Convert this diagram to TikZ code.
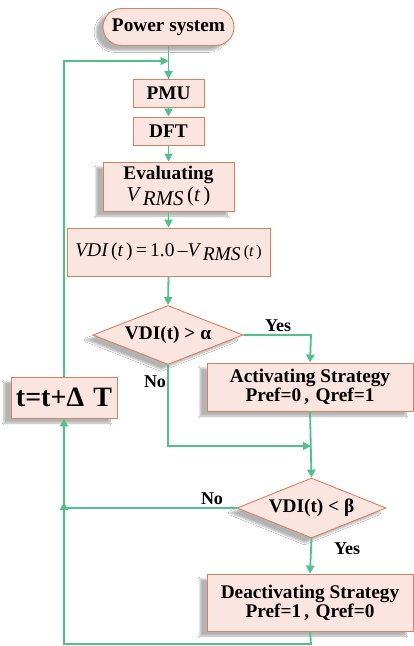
\documentclass[tikz,border=0pt]{standalone}
\usepackage{fontspec}
\setmainfont{Liberation Serif}
\usetikzlibrary{shapes.geometric,shapes.misc,arrows.meta,shadows.blur}
\definecolor{boxfill}{HTML}{FBE5E0}
\definecolor{boxdraw}{HTML}{D9825F}
\definecolor{flow}{HTML}{4CC38A}
\begin{document}
\begin{tikzpicture}[x=1pt,y=-1pt,
  base/.style={draw=boxdraw,fill=boxfill,line width=0.9pt,inner sep=0pt,align=center,font=\bfseries\fontsize{19.3}{21}\selectfont},
  sh/.style={blur shadow={shadow xshift=-7pt,shadow yshift=-5pt,shadow opacity=30,shadow blur steps=6}},
  proc/.style={base,rectangle},
  term/.style={base,rounded rectangle},
  dec/.style={base,diamond,aspect=2.5},
  flowline/.style={draw=flow,line width=1.8pt},
  arr/.style={flowline,-{Triangle[length=8pt,width=8pt]}},
  lab/.style={font=\bfseries\fontsize{18}{20}\selectfont,inner sep=0pt}
]
\useasboundingbox (0,0) rectangle (413,646);
\fill[white] (0,0) rectangle (413,646);

\node[term,sh,minimum width=131pt,minimum height=37pt] (ps) at (168.5,27) {Power system};
\node[proc,minimum width=71pt,minimum height=28pt] (pmu) at (168.5,93) {PMU};
\node[proc,minimum width=71pt,minimum height=28pt] (dft) at (168.5,131) {DFT};
\node[proc,sh,minimum width=131pt,minimum height=49pt] (eval) at (168.5,186.5)
  {Evaluating\\[1pt]{\mdseries\fontsize{21}{23}\selectfont\itshape V\,\raisebox{-4pt}{RMS}\,\upshape(\itshape t\upshape\,)}};
\node[proc,minimum width=203pt,minimum height=48pt] (vdi) at (168.5,252)
  {\mdseries\fontsize{19.5}{21}\selectfont\itshape VDI\upshape\,(\itshape t\upshape\,)\,=\,1.0\,\textendash\itshape V\,\raisebox{-4pt}{RMS}\,\upshape{\fontsize{16}{18}\selectfont(\itshape t\upshape\,)}};
\node[dec,sh,minimum width=150pt,minimum height=59pt] (d1) at (168,335) {VDI(t) > α};
\node[proc,sh,minimum width=206pt,minimum height=48pt] (act) at (310,387) {Activating Strategy\\[-2pt]Pref=0\,,\,\,Qref=1};
\node[proc,sh,minimum width=106pt,minimum height=41pt,font=\bfseries\fontsize{28}{30}\selectfont] (tb) at (64,397.5) {t=t+Δ\,\,T};
\node[dec,sh,minimum width=149pt,minimum height=60pt] (d2) at (311.5,508) {VDI(t) < β};
\node[proc,sh,minimum width=206pt,minimum height=57pt] (deact) at (310,602.5) {Deactivating Strategy\\[-2pt]Pref=1\,,\,\,Qref=0};

\coordinate (loopTop) at (64,61);
\coordinate (mainTop) at (168.5,61);
\coordinate (yesCorner) at (311,335);
\coordinate (noCorner) at (168,446);
\coordinate (noJoin) at (311,446);
\coordinate (no2Corner) at (64,508);
\coordinate (botRight) at (311,644);
\coordinate (botLeft) at (64,644);
\coordinate (botEnd) at (64,502);

\draw[flowline] (ps.south) -- (pmu.north);
\draw[arr] (mainTop) -- ++(0,18);
\draw[arr] (tb.north) -- (loopTop) -- (mainTop);
\draw[arr] (pmu.south) -- (dft.north);
\draw[arr] (dft.south) -- (eval.north);
\draw[arr] (eval.south) -- (vdi.north);
\draw[arr] (vdi.south) -- (d1.north);
\draw[arr] (d1.east) -- (yesCorner) -- (act.north);
\draw[arr] (d1.south) -- (noCorner) -- (noJoin);
\draw[arr] (act.south) -- (d2.north);
\draw[arr] (d2.west) -- (no2Corner) -- (tb.south);
\draw[arr] (d2.south) -- (deact.north);
\draw[arr] (deact.south) -- (botRight) -- (botLeft) -- (botEnd);

\node[lab] (yes1) at (278,326) {Yes};
\node[lab] (no1) at (155,382) {No};
\node[lab] (no2) at (212,499) {No};
\node[lab] (yes2) at (347,549) {Yes};
\end{tikzpicture}
\end{document}
